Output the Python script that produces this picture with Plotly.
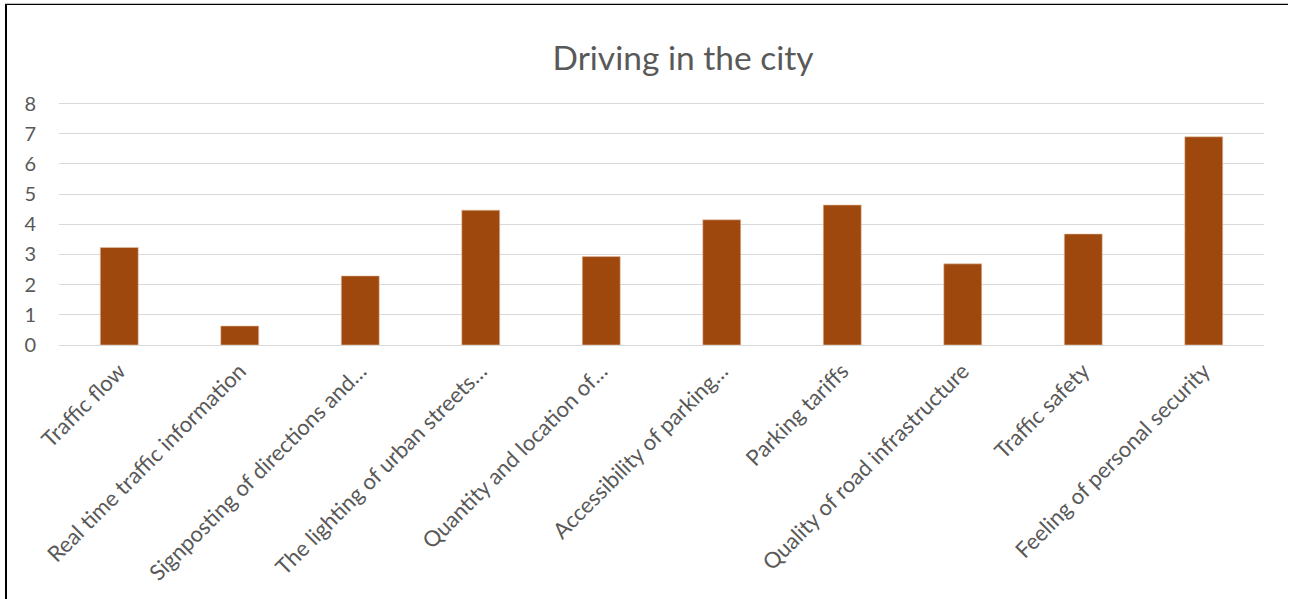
import plotly.graph_objects as go

categories = [
    "Traffic flow",
    "Real time traffic information",
    "Signposting of directions and…",
    "The lighting of urban streets…",
    "Quantity and location of…",
    "Accessibility of parking…",
    "Parking tariffs",
    "Quality of road infrastructure",
    "Traffic safety",
    "Feeling of personal security",
]
values = [3.23, 0.63, 2.29, 4.47, 2.93, 4.15, 4.64, 2.69, 3.68, 6.90]
y_ticks = [0, 1, 2, 3, 4, 5, 6, 7, 8]

W, H = 1292, 599
YMAX = 8.12
L, R = 59, 28
B = 254
unit = (345 - 104) / 8.0
ph = unit * YMAX
T = H - B - ph
pw = W - L - R

def px_x(x):
    return (x - L) / pw

def px_y(y):
    return (H - B - y) / ph

FONT = "Lato, Open Sans, sans-serif"
GREY = "#595959"

fig = go.Figure(go.Bar(
    x=categories, y=values,
    marker=dict(color="#9E480E", line=dict(color="#e8c2a8", width=0.6)),
    width=0.315,
))

fig.update_layout(
    width=W, height=H,
    margin=dict(l=L, r=R, t=T, b=B, pad=0),
    paper_bgcolor="white", plot_bgcolor="white",
    showlegend=False,
    font=dict(family=FONT, color=GREY, size=21),
    title=dict(text="Driving in the city", x=683 / W, xanchor="center",
               y=1 - 58 / H, yanchor="middle",
               font=dict(family=FONT, size=33.5, color=GREY)),
    xaxis=dict(tickangle=-45, showgrid=False, zeroline=False, showline=False,
               ticks="", tickfont=dict(size=22, color=GREY), ticklabelstandoff=8),
    yaxis=dict(range=[0, YMAX], tickvals=y_ticks, showgrid=True, gridcolor="#d9d9d9",
               gridwidth=1.3, zeroline=True, zerolinecolor="#d9d9d9", zerolinewidth=1.3,
               showline=False, ticks="", tickfont=dict(size=20, color=GREY),
               ticklabelstandoff=22),
    shapes=[
        dict(type="line", xref="paper", yref="paper", x0=px_x(6), x1=px_x(6),
             y0=px_y(5), y1=px_y(H + 5), line=dict(color="black", width=2)),
        dict(type="line", xref="paper", yref="paper", x0=px_x(5), x1=px_x(1288),
             y0=px_y(5), y1=px_y(5), line=dict(color="black", width=1.3)),
    ],
)

fig.write_html("out.html")
